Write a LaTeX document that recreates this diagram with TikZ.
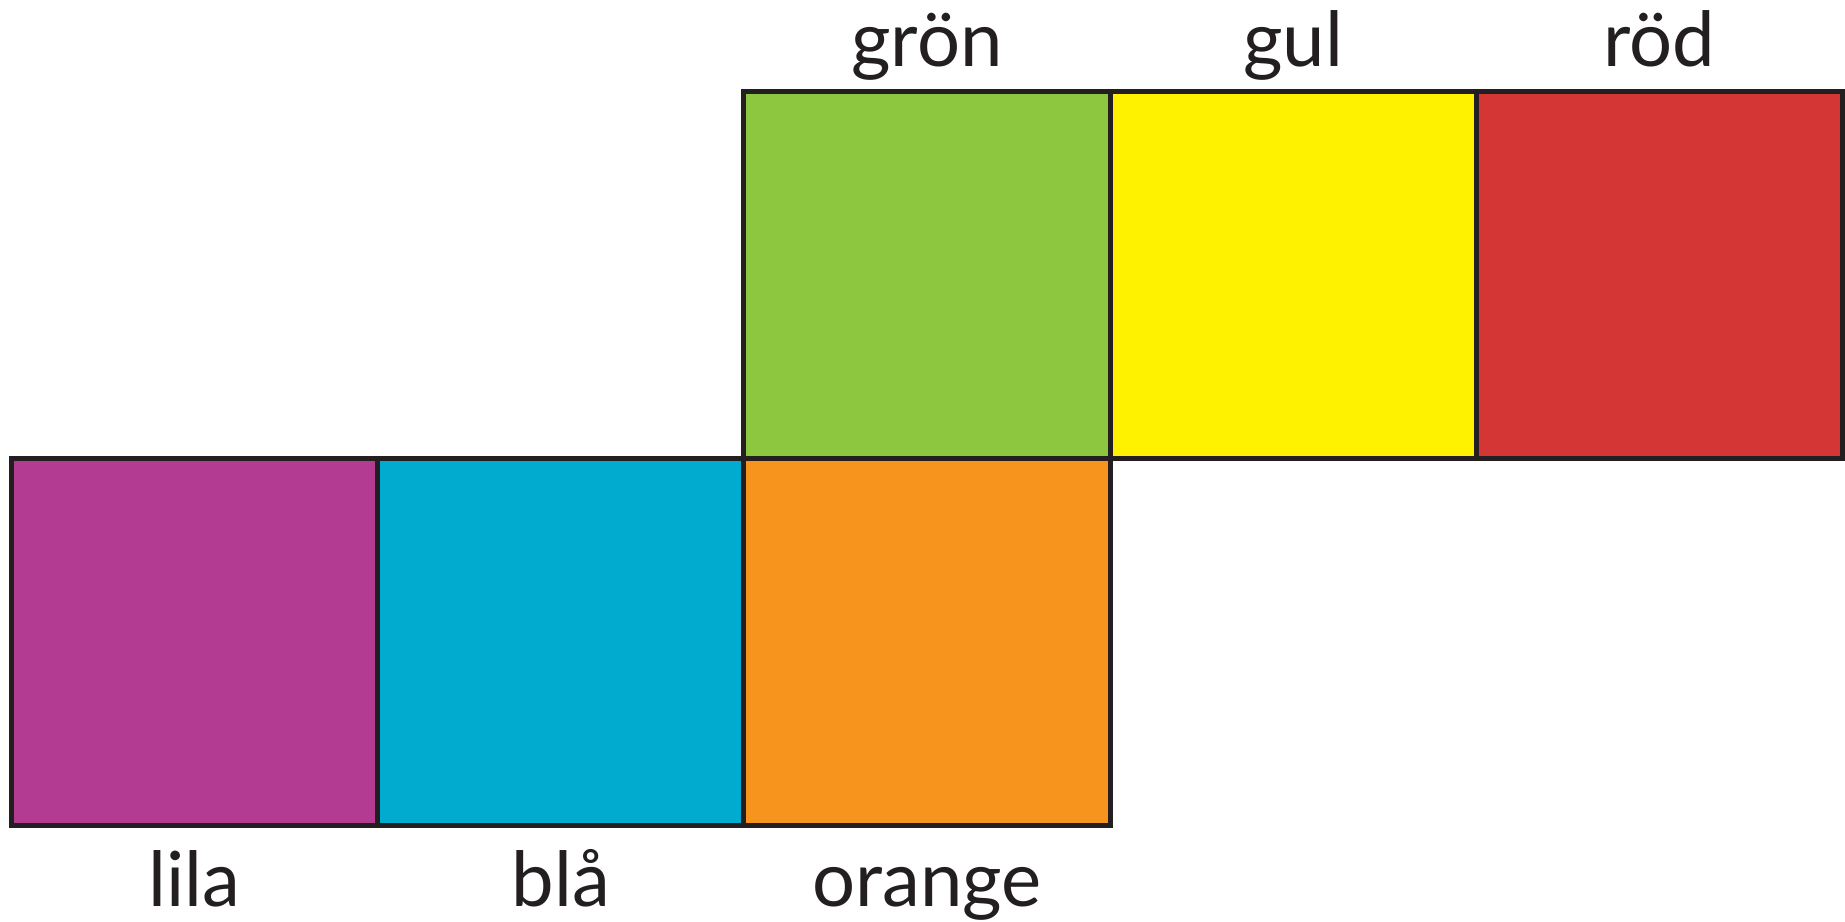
\documentclass[tikz,border=0pt]{standalone}
\usepackage{fontspec}
\setmainfont{Lato}
\definecolor{cgreen}{HTML}{8DC63F}
\definecolor{cyellow}{HTML}{FFF200}
\definecolor{cred}{HTML}{D43635}
\definecolor{cpurple}{HTML}{B33C92}
\definecolor{cblue}{HTML}{00ABCF}
\definecolor{corange}{HTML}{F7941E}
\definecolor{cborder}{HTML}{231F20}
\tikzset{
  sq/.style={draw=cborder, line width=2.5pt, minimum width=183.1pt, minimum height=183.5pt, inner sep=0pt, outer sep=0pt},
  lbl/.style={anchor=base, text=cborder, font=\fontsize{38pt}{46pt}\selectfont, inner sep=0pt}
}
\begin{document}
\begin{tikzpicture}[x=0.5pt,y=0.5pt]
\useasboundingbox (0,0) rectangle (1845,921);
\node[sq, fill=cgreen]  (gron)   at (927.0,646) {};
\node[sq, fill=cyellow] (gul)    at (1293.2,646) {};
\node[sq, fill=cred]    (rod)    at (1659.4,646) {};
\node[sq, fill=cpurple] (lila)   at (194.6,279) {};
\node[sq, fill=cblue]   (bla)    at (560.8,279) {};
\node[sq, fill=corange] (orange) at (927.0,279) {};
\node[lbl] (tgron) at (927.0,854) {grön};
\node[lbl] (tgul) at (1293.2,854) {gul};
\node[lbl] (trod) at (1659.4,854) {röd};
\node[lbl] (tlila) at (194.6,15) {lila};
\node[lbl] (tbla) at (560.8,15) {blå};
\node[lbl] (torange) at (927.0,15) {orange};
\end{tikzpicture}
\end{document}
